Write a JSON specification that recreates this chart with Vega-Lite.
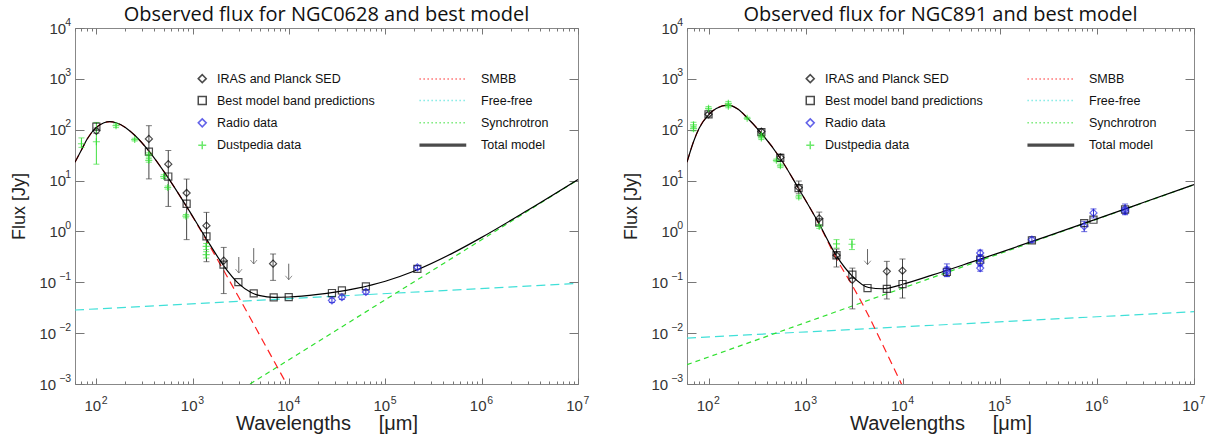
{
"$schema": "https://vega.github.io/schema/vega-lite/v6.json",
"background": "white",
"padding": {"left": 9, "top": 4, "right": 0, "bottom": 0},
"spacing": 31,
"config": {"view": {"stroke": "#888", "strokeWidth": 1}},
"datasets": {
"m628": [
{"series":"Free-free","wl":60,"flux":0.0285},{"series":"Free-free","wl":10000000,"flux":0.095},
{"series":"Synchrotron","wl":3940,"flux":0.001},{"series":"Synchrotron","wl":10000000,"flux":10.4},
{"series":"SMBB","wl":60,"flux":23},{"series":"SMBB","wl":70,"flux":40},{"series":"SMBB","wl":80,"flux":65},{"series":"SMBB","wl":100,"flux":111},{"series":"SMBB","wl":120,"flux":137},{"series":"SMBB","wl":138,"flux":144},{"series":"SMBB","wl":160,"flux":137},{"series":"SMBB","wl":200,"flux":111},{"series":"SMBB","wl":250,"flux":78},{"series":"SMBB","wl":350,"flux":38.4},{"series":"SMBB","wl":550,"flux":11.7},{"series":"SMBB","wl":850,"flux":3.22},{"series":"SMBB","wl":1380,"flux":0.684},{"series":"SMBB","wl":2100,"flux":0.17},{"series":"SMBB","wl":3000,"flux":0.0512},{"series":"SMBB","wl":4000,"flux":0.0192},{"series":"SMBB","wl":5000,"flux":0.0089},{"series":"SMBB","wl":7000,"flux":0.0028},{"series":"SMBB","wl":10000,"flux":0.00082},
{"series":"Total model","wl":60,"flux":23},{"series":"Total model","wl":70,"flux":40},{"series":"Total model","wl":80,"flux":65},{"series":"Total model","wl":100,"flux":111},{"series":"Total model","wl":120,"flux":137},{"series":"Total model","wl":138,"flux":144},{"series":"Total model","wl":160,"flux":137},{"series":"Total model","wl":200,"flux":111},{"series":"Total model","wl":250,"flux":78},{"series":"Total model","wl":350,"flux":38.4},{"series":"Total model","wl":550,"flux":11.7},{"series":"Total model","wl":850,"flux":3.25},{"series":"Total model","wl":1380,"flux":0.723},{"series":"Total model","wl":2100,"flux":0.211},{"series":"Total model","wl":3000,"flux":0.094},{"series":"Total model","wl":4000,"flux":0.0636},{"series":"Total model","wl":5000,"flux":0.0546},{"series":"Total model","wl":7000,"flux":0.0507},{"series":"Total model","wl":10000,"flux":0.0514},{"series":"Total model","wl":20000,"flux":0.0577},{"series":"Total model","wl":30000,"flux":0.064},{"series":"Total model","wl":50000,"flux":0.076},{"series":"Total model","wl":100000,"flux":0.105},{"series":"Total model","wl":200000,"flux":0.167},{"series":"Total model","wl":500000,"flux":0.375},{"series":"Total model","wl":1000000,"flux":0.764},{"series":"Total model","wl":3000000,"flux":2.6},{"series":"Total model","wl":10000000,"flux":10.5}
],
"p628": [
{"series":"Best model band predictions","wl":100,"flux":115},{"series":"Best model band predictions","wl":351,"flux":37},{"series":"Best model band predictions","wl":558,"flux":12},{"series":"Best model band predictions","wl":865,"flux":3.5},{"series":"Best model band predictions","wl":1390,"flux":0.8},{"series":"Best model band predictions","wl":2090,"flux":0.222},{"series":"Best model band predictions","wl":2980,"flux":0.101},{"series":"Best model band predictions","wl":4300,"flux":0.0605},{"series":"Best model band predictions","wl":6930,"flux":0.0505},{"series":"Best model band predictions","wl":9930,"flux":0.051},{"series":"Best model band predictions","wl":27900,"flux":0.0615},{"series":"Best model band predictions","wl":35400,"flux":0.069},{"series":"Best model band predictions","wl":62800,"flux":0.083},{"series":"Best model band predictions","wl":215000,"flux":0.183},
{"series":"IRAS and Planck SED","wl":100,"flux":95,"lo":85,"hi":108},{"series":"IRAS and Planck SED","wl":351,"flux":66,"lo":10.8,"hi":120},{"series":"IRAS and Planck SED","wl":558,"flux":21,"lo":3.1,"hi":39},{"series":"IRAS and Planck SED","wl":865,"flux":5.7,"lo":0.69,"hi":10.7},{"series":"IRAS and Planck SED","wl":1390,"flux":1.3,"lo":0.254,"hi":2.37},{"series":"IRAS and Planck SED","wl":2100,"flux":0.266,"lo":0.06,"hi":0.485},{"series":"IRAS and Planck SED","wl":6830,"flux":0.232,"lo":0.109,"hi":0.36},
{"series":"Dustpedia data","wl":70,"flux":53,"lo":45,"hi":69},{"series":"Dustpedia data","wl":100,"flux":58,"lo":21,"hi":139},{"series":"Dustpedia data","wl":160,"flux":120,"lo":110,"hi":130},{"series":"Dustpedia data","wl":250,"flux":64,"lo":60,"hi":68},{"series":"Dustpedia data","wl":350,"flux":32,"lo":29,"hi":35},{"series":"Dustpedia data","wl":350,"flux":25,"lo":23,"hi":27},{"series":"Dustpedia data","wl":500,"flux":12,"lo":11,"hi":13},{"series":"Dustpedia data","wl":550,"flux":7.3,"lo":6.8,"hi":7.8},{"series":"Dustpedia data","wl":850,"flux":2.0,"lo":1.85,"hi":2.15},{"series":"Dustpedia data","wl":1380,"flux":0.51,"lo":0.44,"hi":0.58},{"series":"Dustpedia data","wl":1380,"flux":0.35,"lo":0.3,"hi":0.4},
{"series":"Radio data","wl":27900,"flux":0.044,"lo":0.04,"hi":0.049},{"series":"Radio data","wl":35400,"flux":0.051,"lo":0.046,"hi":0.056},{"series":"Radio data","wl":62800,"flux":0.0645,"lo":0.058,"hi":0.071},{"series":"Radio data","wl":215000,"flux":0.196,"lo":0.18,"hi":0.21}
],
"u628": [{"wl":3010,"top":0.314,"tip":0.152},{"wl":4300,"top":0.47,"tip":0.229},{"wl":9930,"top":0.232,"tip":0.112}],
"m891": [
{"series":"Free-free","wl":60,"flux":0.008},{"series":"Free-free","wl":10000000,"flux":0.0264},
{"series":"Synchrotron","wl":60,"flux":0.0024},{"series":"Synchrotron","wl":10000000,"flux":8.3},
{"series":"SMBB","wl":60,"flux":23},{"series":"SMBB","wl":70,"flux":58},{"series":"SMBB","wl":80,"flux":107},{"series":"SMBB","wl":100,"flux":196},{"series":"SMBB","wl":120,"flux":262},{"series":"SMBB","wl":160,"flux":305},{"series":"SMBB","wl":200,"flux":255},{"series":"SMBB","wl":250,"flux":172},{"series":"SMBB","wl":345,"flux":88},{"series":"SMBB","wl":548,"flux":27.5},{"series":"SMBB","wl":846,"flux":7.0},{"series":"SMBB","wl":1380,"flux":1.37},{"series":"SMBB","wl":2080,"flux":0.29},{"series":"SMBB","wl":3040,"flux":0.085},{"series":"SMBB","wl":4450,"flux":0.022},{"series":"SMBB","wl":6190,"flux":0.006},{"series":"SMBB","wl":10000,"flux":0.00089},
{"series":"Total model","wl":60,"flux":23},{"series":"Total model","wl":70,"flux":58},{"series":"Total model","wl":80,"flux":107},{"series":"Total model","wl":100,"flux":196},{"series":"Total model","wl":120,"flux":262},{"series":"Total model","wl":160,"flux":305},{"series":"Total model","wl":200,"flux":255},{"series":"Total model","wl":250,"flux":172},{"series":"Total model","wl":345,"flux":88},{"series":"Total model","wl":548,"flux":27.5},{"series":"Total model","wl":846,"flux":7.0},{"series":"Total model","wl":1380,"flux":1.4},{"series":"Total model","wl":2080,"flux":0.33},{"series":"Total model","wl":3040,"flux":0.131},{"series":"Total model","wl":4450,"flux":0.079},{"series":"Total model","wl":6190,"flux":0.0746},{"series":"Total model","wl":10000,"flux":0.0916},{"series":"Total model","wl":20000,"flux":0.138},{"series":"Total model","wl":50000,"flux":0.246},{"series":"Total model","wl":100000,"flux":0.384},{"series":"Total model","wl":300000,"flux":0.792},{"series":"Total model","wl":1000000,"flux":1.767},{"series":"Total model","wl":3000000,"flux":3.7},{"series":"Total model","wl":10000000,"flux":8.33}
],
"p891": [
{"series":"Best model band predictions","wl":100,"flux":201},{"series":"Best model band predictions","wl":350,"flux":90},{"series":"Best model band predictions","wl":548,"flux":28},{"series":"Best model band predictions","wl":846,"flux":7.1},{"series":"Best model band predictions","wl":1380,"flux":1.5},{"series":"Best model band predictions","wl":2080,"flux":0.34},{"series":"Best model band predictions","wl":3030,"flux":0.141},{"series":"Best model band predictions","wl":4340,"flux":0.077},{"series":"Best model band predictions","wl":6860,"flux":0.074},{"series":"Best model band predictions","wl":9950,"flux":0.0924},{"series":"Best model band predictions","wl":28500,"flux":0.16},{"series":"Best model band predictions","wl":62800,"flux":0.278},{"series":"Best model band predictions","wl":214000,"flux":0.67},{"series":"Best model band predictions","wl":740000,"flux":1.46},{"series":"Best model band predictions","wl":922000,"flux":1.7},{"series":"Best model band predictions","wl":1950000,"flux":2.7},
{"series":"IRAS and Planck SED","wl":100,"flux":201,"lo":185,"hi":220},{"series":"IRAS and Planck SED","wl":350,"flux":92,"lo":82,"hi":102},{"series":"IRAS and Planck SED","wl":550,"flux":28.5,"lo":24,"hi":33},{"series":"IRAS and Planck SED","wl":850,"flux":7.3,"lo":5.5,"hi":9.8},{"series":"IRAS and Planck SED","wl":1380,"flux":1.8,"lo":1.35,"hi":2.4},{"series":"IRAS and Planck SED","wl":2080,"flux":0.34,"lo":0.2,"hi":0.45},{"series":"IRAS and Planck SED","wl":3030,"flux":0.112,"lo":0.03,"hi":0.19},{"series":"IRAS and Planck SED","wl":6860,"flux":0.164,"lo":0.047,"hi":0.258},{"series":"IRAS and Planck SED","wl":9950,"flux":0.169,"lo":0.049,"hi":0.287},
{"series":"Dustpedia data","wl":70,"flux":125,"lo":112,"hi":140},{"series":"Dustpedia data","wl":70,"flux":105,"lo":95,"hi":115},{"series":"Dustpedia data","wl":100,"flux":263,"lo":245,"hi":285},{"series":"Dustpedia data","wl":160,"flux":330,"lo":300,"hi":360},{"series":"Dustpedia data","wl":160,"flux":290,"lo":270,"hi":310},{"series":"Dustpedia data","wl":250,"flux":168,"lo":160,"hi":176},{"series":"Dustpedia data","wl":350,"flux":78,"lo":72,"hi":84},{"series":"Dustpedia data","wl":350,"flux":69,"lo":64,"hi":74},{"series":"Dustpedia data","wl":500,"flux":25,"lo":23.5,"hi":26.5},{"series":"Dustpedia data","wl":550,"flux":19.5,"lo":18,"hi":21},{"series":"Dustpedia data","wl":850,"flux":4.75,"lo":4.4,"hi":5.1},{"series":"Dustpedia data","wl":1380,"flux":1.25,"lo":1.15,"hi":1.35},{"series":"Dustpedia data","wl":2080,"flux":0.57,"lo":0.47,"hi":0.69},{"series":"Dustpedia data","wl":3000,"flux":0.56,"lo":0.44,"hi":0.7},
{"series":"Radio data","wl":28500,"flux":0.177,"lo":0.129,"hi":0.23},{"series":"Radio data","wl":28500,"flux":0.16,"lo":0.13,"hi":0.2},{"series":"Radio data","wl":62800,"flux":0.377,"lo":0.33,"hi":0.43},{"series":"Radio data","wl":62800,"flux":0.3,"lo":0.26,"hi":0.35},{"series":"Radio data","wl":62800,"flux":0.24,"lo":0.21,"hi":0.28},{"series":"Radio data","wl":62800,"flux":0.19,"lo":0.165,"hi":0.22},{"series":"Radio data","wl":214000,"flux":0.687,"lo":0.61,"hi":0.777},{"series":"Radio data","wl":740000,"flux":1.26,"lo":0.99,"hi":1.58},{"series":"Radio data","wl":922000,"flux":2.31,"lo":1.84,"hi":2.77},{"series":"Radio data","wl":1950000,"flux":2.76,"lo":2.13,"hi":3.46},{"series":"Radio data","wl":1950000,"flux":2.5,"lo":2.2,"hi":2.9}
],
"u891": [{"wl":4340,"top":0.45,"tip":0.222}]
},
"resolve": {"scale": {"x": "independent", "y": "independent", "shape": "independent", "stroke": "independent"}, "legend": {"shape": "independent", "stroke": "independent"}},
"hconcat": [
{
"width": 503, "height": 356,
"title": {"text": "Observed flux for NGC0628 and best model", "font": "Open Sans", "fontSize": 20, "fontWeight": "normal", "color": "#111", "offset": -8},
"resolve": {"axis": {"x": "independent", "y": "independent"}},
"layer": [
{"data": {"name": "m628"}, "transform": [{"filter": "datum.series == 'Free-free'"}],
 "mark": {"type": "line", "strokeDash": [9, 5], "strokeWidth": 1.2, "clip": true},
 "encoding": {
  "x": {"field": "wl", "type": "quantitative", "scale": {"type": "log", "domain": [60, 10000000], "nice": false},
   "axis": {"orient": "bottom", "values": [100, 1000, 10000, 100000, 1000000, 10000000], "labelExpr": "'10'", "ticks": false, "domain": false, "grid": false, "labelFont": "Liberation Sans", "labelFontSize": 15, "labelColor": "#333", "labelPadding": 14, "labelOffset": -4, "labelAlign": "center", "labelBaseline": "top", "labelFlush": false, "labelOverlap": false, "title": "Wavelengths\u00a0\u00a0\u00a0\u00a0\u00a0[\u03bcm]", "titleFont": "Liberation Sans", "titleFontSize": 20, "titleFontWeight": "normal", "titleColor": "#222", "titlePadding": 0}},
  "y": {"field": "flux", "type": "quantitative", "scale": {"type": "log", "domain": [0.001, 10000], "nice": false},
   "axis": {"orient": "left", "values": [0.001, 0.01, 0.1], "labelExpr": "'10'", "ticks": false, "domain": false, "grid": false, "labelFont": "Liberation Sans", "labelFontSize": 15, "labelColor": "#333", "labelPadding": 19.3, "labelAlign": "right", "labelBaseline": "middle", "labelFlush": false, "labelOverlap": false, "title": "Flux [Jy]", "titleFont": "Liberation Sans", "titleFontSize": 18, "titleFontWeight": "normal", "titleColor": "#222", "titlePadding": 11}},
  "stroke": {"field": "series", "type": "nominal",
   "scale": {"domain": ["IRAS and Planck SED", "Best model band predictions", "Radio data", "Dustpedia data", "SMBB", "Free-free", "Synchrotron", "Total model"], "range": ["#000000", "#000000", "#2020e0", "#30e030", "#ff2020", "#40e0d8", "#30e030", "#000000"]},
   "legend": {"title": null, "orient": "none", "legendX": 121, "legendY": 44, "columns": 2, "columnPadding": 41, "rowPadding": 7.3, "symbolSize": 64, "symbolStrokeWidth": 1.5, "labelFont": "Liberation Sans", "labelFontSize": 12.5, "labelColor": "#111", "labelOffset": 8.5}}
 }},
{"data": {"name": "m628"}, "transform": [{"filter": "datum.series == 'Synchrotron'"}],
 "mark": {"type": "line", "strokeDash": [5, 4], "strokeWidth": 1.2, "clip": true},
 "encoding": {
  "x": {"field": "wl", "type": "quantitative", "scale": {"type": "log", "domain": [60, 10000000], "nice": false},
   "axis": {"orient": "bottom", "values": [100, 1000, 10000, 100000, 1000000, 10000000], "labelExpr": "format(round(log(datum.value)/LN10),'d')", "ticks": false, "domain": false, "grid": false, "labelFont": "Liberation Sans", "labelFontSize": 10.5, "labelColor": "#333", "labelPadding": 11, "labelOffset": 5, "labelAlign": "left", "labelBaseline": "top", "labelFlush": false, "labelOverlap": false, "title": null}},
  "y": {"field": "flux", "type": "quantitative", "scale": {"type": "log", "domain": [0.001, 10000], "nice": false},
   "axis": {"orient": "left", "values": [0.001, 0.01, 0.1, 1, 10, 100, 1000, 10000], "labelExpr": "datum.value < 0.5 ? '\u2212' + format(-round(log(datum.value)/LN10),'d') : format(round(log(datum.value)/LN10),'d')", "ticks": false, "domain": false, "grid": false, "labelFont": "Liberation Sans", "labelFontSize": 10.5, "labelColor": "#333", "labelPadding": 4.3, "labelOffset": -6, "labelAlign": "right", "labelBaseline": "middle", "labelFlush": false, "labelOverlap": false, "title": null}},
  "stroke": {"field": "series", "type": "nominal"}
 }},
{"data": {"name": "m628"}, "transform": [{"filter": "datum.series == 'SMBB'"}],
 "mark": {"type": "line", "strokeDash": [8, 5], "strokeWidth": 1.2, "clip": true, "interpolate": "monotone"},
 "encoding": {
  "x": {"field": "wl", "type": "quantitative", "scale": {"type": "log", "domain": [60, 10000000], "nice": false},
   "axis": {"orient": "top", "values": [100, 1000, 10000, 100000, 1000000, 10000000], "labels": false, "ticks": true, "tickSize": -6, "tickColor": "#777", "domain": false, "grid": false, "title": null}},
  "y": {"field": "flux", "type": "quantitative", "scale": {"type": "log", "domain": [0.001, 10000], "nice": false},
   "axis": {"orient": "right", "values": [0.001, 0.01, 0.1, 1, 10, 100, 1000, 10000], "labels": false, "ticks": true, "tickSize": -9, "tickColor": "#777", "domain": false, "grid": false, "title": null}},
  "stroke": {"field": "series", "type": "nominal"}
 }},
{"data": {"name": "m628"}, "transform": [{"filter": "datum.series == 'Total model'"}],
 "mark": {"type": "line", "strokeWidth": 1.2, "clip": true, "interpolate": "monotone"},
 "encoding": {
  "x": {"field": "wl", "type": "quantitative", "scale": {"type": "log", "domain": [60, 10000000], "nice": false},
   "axis": {"orient": "bottom", "values": [100, 1000, 10000, 100000, 1000000, 10000000], "labels": false, "ticks": true, "tickSize": -6, "tickColor": "#777", "domain": false, "grid": false, "title": null}},
  "y": {"field": "flux", "type": "quantitative", "scale": {"type": "log", "domain": [0.001, 10000], "nice": false},
   "axis": {"orient": "left", "values": [0.001, 0.01, 0.1, 1, 10, 100, 1000, 10000], "labels": false, "ticks": true, "tickSize": -9, "tickColor": "#777", "domain": false, "grid": false, "title": null}},
  "stroke": {"field": "series", "type": "nominal"}
 }},
{"data": {"name": "p628"}, "transform": [{"filter": "datum.lo != null"}],
 "mark": {"type": "rule", "strokeWidth": 1},
 "encoding": {
  "x": {"field": "wl", "type": "quantitative", "scale": {"type": "log", "domain": [60, 10000000], "nice": false},
   "axis": {"orient": "bottom", "values": [60,70,80,90,200,300,400,500,600,700,800,900,2000,3000,4000,5000,6000,7000,8000,9000,20000,30000,40000,50000,60000,70000,80000,90000,200000,300000,400000,500000,600000,700000,800000,900000,2000000,3000000,4000000,5000000,6000000,7000000,8000000,9000000], "labels": false, "ticks": true, "tickSize": -3, "tickColor": "#777", "domain": false, "grid": false, "title": null}},
  "y": {"field": "lo", "type": "quantitative", "scale": {"type": "log", "domain": [0.001, 10000], "nice": false},
   "axis": {"orient": "left", "values": [1, 10, 100, 1000, 10000], "labelExpr": "'10'", "ticks": false, "domain": false, "grid": false, "labelFont": "Liberation Sans", "labelFontSize": 15, "labelColor": "#333", "labelPadding": 9.3, "labelAlign": "right", "labelBaseline": "middle", "labelFlush": false, "labelOverlap": false, "title": null}},
  "y2": {"field": "hi"},
  "stroke": {"condition": [{"test": "datum.series == 'Radio data'", "value": "#2a2ad0"}, {"test": "datum.series == 'Dustpedia data'", "value": "#40e040"}], "value": "#444444"}
 }},
{"data": {"name": "p628"}, "transform": [{"filter": "datum.lo != null"}],
 "mark": {"type": "tick", "orient": "horizontal", "size": 6, "thickness": 1},
 "encoding": {
  "x": {"field": "wl", "type": "quantitative", "scale": {"type": "log", "domain": [60, 10000000], "nice": false},
   "axis": {"orient": "top", "values": [60,70,80,90,200,300,400,500,600,700,800,900,2000,3000,4000,5000,6000,7000,8000,9000,20000,30000,40000,50000,60000,70000,80000,90000,200000,300000,400000,500000,600000,700000,800000,900000,2000000,3000000,4000000,5000000,6000000,7000000,8000000,9000000], "labels": false, "ticks": true, "tickSize": -3, "tickColor": "#777", "domain": false, "grid": false, "title": null}},
  "y": {"field": "lo", "type": "quantitative", "scale": {"type": "log", "domain": [0.001, 10000], "nice": false}, "axis": null},
  "color": {"condition": [{"test": "datum.series == 'Radio data'", "value": "#2a2ad0"}, {"test": "datum.series == 'Dustpedia data'", "value": "#40e040"}], "value": "#444444"}
 }},
{"data": {"name": "p628"}, "transform": [{"filter": "datum.hi != null"}],
 "mark": {"type": "tick", "orient": "horizontal", "size": 6, "thickness": 1},
 "encoding": {
  "x": {"field": "wl", "type": "quantitative", "scale": {"type": "log", "domain": [60, 10000000], "nice": false}, "axis": null},
  "y": {"field": "hi", "type": "quantitative", "scale": {"type": "log", "domain": [0.001, 10000], "nice": false}, "axis": null},
  "color": {"condition": [{"test": "datum.series == 'Radio data'", "value": "#2a2ad0"}, {"test": "datum.series == 'Dustpedia data'", "value": "#40e040"}], "value": "#444444"}
 }},
{"data": {"name": "p628"},
 "mark": {"type": "point", "filled": false, "size": 50, "strokeWidth": 1.2},
 "encoding": {
  "x": {"field": "wl", "type": "quantitative", "scale": {"type": "log", "domain": [60, 10000000], "nice": false}, "axis": null},
  "y": {"field": "flux", "type": "quantitative", "scale": {"type": "log", "domain": [0.001, 10000], "nice": false}, "axis": null},
  "stroke": {"field": "series", "type": "nominal"},
  "shape": {"field": "series", "type": "nominal",
   "scale": {"domain": ["IRAS and Planck SED", "Best model band predictions", "Radio data", "Dustpedia data", "SMBB", "Free-free", "Synchrotron", "Total model"], "range": ["diamond", "square", "diamond", "M-1,0H1M0,-1V1", "M-11.7,0h0.35M-10.7,0h0.35M-9.7,0h0.35M-8.7,0h0.35M-7.7,0h0.35M-6.7,0h0.35M-5.7,0h0.35M-4.7,0h0.35M-3.7,0h0.35M-2.7,0h0.35M-1.7,0h0.35M-0.7,0h0.35", "M-11.7,0h0.35M-10.7,0h0.35M-9.7,0h0.35M-8.7,0h0.35M-7.7,0h0.35M-6.7,0h0.35M-5.7,0h0.35M-4.7,0h0.35M-3.7,0h0.35M-2.7,0h0.35M-1.7,0h0.35M-0.7,0h0.35", "M-11.7,0h0.35M-10.7,0h0.35M-9.7,0h0.35M-8.7,0h0.35M-7.7,0h0.35M-6.7,0h0.35M-5.7,0h0.35M-4.7,0h0.35M-3.7,0h0.35M-2.7,0h0.35M-1.7,0h0.35M-0.7,0h0.35", "M-11.7,-0.2H0M-11.7,0H0M-11.7,0.2H0"]},
   "legend": {"title": null, "orient": "none", "legendX": 121, "legendY": 44, "columns": 2, "columnPadding": 41, "rowPadding": 7.3, "symbolSize": 64, "symbolStrokeWidth": 1.5, "labelFont": "Liberation Sans", "labelFontSize": 12.5, "labelColor": "#111", "labelOffset": 8.5}}
 }},
{"data": {"name": "u628"},
 "mark": {"type": "rule", "strokeWidth": 1, "color": "#666"},
 "encoding": {
  "x": {"field": "wl", "type": "quantitative", "scale": {"type": "log", "domain": [60, 10000000], "nice": false}, "axis": null},
  "y": {"field": "top", "type": "quantitative", "scale": {"type": "log", "domain": [0.001, 10000], "nice": false}, "axis": null},
  "y2": {"field": "tip"}
 }},
{"data": {"name": "u628"},
 "mark": {"type": "point", "shape": "M-1,-1.2L0,0L1,-1.2", "size": 44, "filled": false, "strokeWidth": 1, "color": "#666"},
 "encoding": {
  "x": {"field": "wl", "type": "quantitative", "scale": {"type": "log", "domain": [60, 10000000], "nice": false}, "axis": null},
  "y": {"field": "tip", "type": "quantitative", "scale": {"type": "log", "domain": [0.001, 10000], "nice": false}, "axis": null}
 }}
]
},
{
"width": 507, "height": 356,
"title": {"text": "Observed flux for NGC891 and best model", "font": "Open Sans", "fontSize": 20, "fontWeight": "normal", "color": "#111", "offset": -8},
"resolve": {"axis": {"x": "independent", "y": "independent"}},
"layer": [
{"data": {"name": "m891"}, "transform": [{"filter": "datum.series == 'Free-free'"}],
 "mark": {"type": "line", "strokeDash": [9, 5], "strokeWidth": 1.2, "clip": true},
 "encoding": {
  "x": {"field": "wl", "type": "quantitative", "scale": {"type": "log", "domain": [60, 10000000], "nice": false},
   "axis": {"orient": "bottom", "values": [100, 1000, 10000, 100000, 1000000, 10000000], "labelExpr": "'10'", "ticks": false, "domain": false, "grid": false, "labelFont": "Liberation Sans", "labelFontSize": 15, "labelColor": "#333", "labelPadding": 14, "labelOffset": -4, "labelAlign": "center", "labelBaseline": "top", "labelFlush": false, "labelOverlap": false, "title": "Wavelengths\u00a0\u00a0\u00a0\u00a0\u00a0[\u03bcm]", "titleFont": "Liberation Sans", "titleFontSize": 20, "titleFontWeight": "normal", "titleColor": "#222", "titlePadding": 0}},
  "y": {"field": "flux", "type": "quantitative", "scale": {"type": "log", "domain": [0.001, 10000], "nice": false},
   "axis": {"orient": "left", "values": [0.001, 0.01, 0.1], "labelExpr": "'10'", "ticks": false, "domain": false, "grid": false, "labelFont": "Liberation Sans", "labelFontSize": 15, "labelColor": "#333", "labelPadding": 19.3, "labelAlign": "right", "labelBaseline": "middle", "labelFlush": false, "labelOverlap": false, "title": "Flux [Jy]", "titleFont": "Liberation Sans", "titleFontSize": 18, "titleFontWeight": "normal", "titleColor": "#222", "titlePadding": 11}},
  "stroke": {"field": "series", "type": "nominal",
   "scale": {"domain": ["IRAS and Planck SED", "Best model band predictions", "Radio data", "Dustpedia data", "SMBB", "Free-free", "Synchrotron", "Total model"], "range": ["#000000", "#000000", "#2020e0", "#30e030", "#ff2020", "#40e0d8", "#30e030", "#000000"]},
   "legend": {"title": null, "orient": "none", "legendX": 117, "legendY": 44, "columns": 2, "columnPadding": 41, "rowPadding": 7.3, "symbolSize": 64, "symbolStrokeWidth": 1.5, "labelFont": "Liberation Sans", "labelFontSize": 12.5, "labelColor": "#111", "labelOffset": 8.5}}
 }},
{"data": {"name": "m891"}, "transform": [{"filter": "datum.series == 'Synchrotron'"}],
 "mark": {"type": "line", "strokeDash": [5, 4], "strokeWidth": 1.2, "clip": true},
 "encoding": {
  "x": {"field": "wl", "type": "quantitative", "scale": {"type": "log", "domain": [60, 10000000], "nice": false},
   "axis": {"orient": "bottom", "values": [100, 1000, 10000, 100000, 1000000, 10000000], "labelExpr": "format(round(log(datum.value)/LN10),'d')", "ticks": false, "domain": false, "grid": false, "labelFont": "Liberation Sans", "labelFontSize": 10.5, "labelColor": "#333", "labelPadding": 11, "labelOffset": 5, "labelAlign": "left", "labelBaseline": "top", "labelFlush": false, "labelOverlap": false, "title": null}},
  "y": {"field": "flux", "type": "quantitative", "scale": {"type": "log", "domain": [0.001, 10000], "nice": false},
   "axis": {"orient": "left", "values": [0.001, 0.01, 0.1, 1, 10, 100, 1000, 10000], "labelExpr": "datum.value < 0.5 ? '\u2212' + format(-round(log(datum.value)/LN10),'d') : format(round(log(datum.value)/LN10),'d')", "ticks": false, "domain": false, "grid": false, "labelFont": "Liberation Sans", "labelFontSize": 10.5, "labelColor": "#333", "labelPadding": 4.3, "labelOffset": -6, "labelAlign": "right", "labelBaseline": "middle", "labelFlush": false, "labelOverlap": false, "title": null}},
  "stroke": {"field": "series", "type": "nominal"}
 }},
{"data": {"name": "m891"}, "transform": [{"filter": "datum.series == 'SMBB'"}],
 "mark": {"type": "line", "strokeDash": [8, 5], "strokeWidth": 1.2, "clip": true, "interpolate": "monotone"},
 "encoding": {
  "x": {"field": "wl", "type": "quantitative", "scale": {"type": "log", "domain": [60, 10000000], "nice": false},
   "axis": {"orient": "top", "values": [100, 1000, 10000, 100000, 1000000, 10000000], "labels": false, "ticks": true, "tickSize": -6, "tickColor": "#777", "domain": false, "grid": false, "title": null}},
  "y": {"field": "flux", "type": "quantitative", "scale": {"type": "log", "domain": [0.001, 10000], "nice": false},
   "axis": {"orient": "right", "values": [0.001, 0.01, 0.1, 1, 10, 100, 1000, 10000], "labels": false, "ticks": true, "tickSize": -9, "tickColor": "#777", "domain": false, "grid": false, "title": null}},
  "stroke": {"field": "series", "type": "nominal"}
 }},
{"data": {"name": "m891"}, "transform": [{"filter": "datum.series == 'Total model'"}],
 "mark": {"type": "line", "strokeWidth": 1.2, "clip": true, "interpolate": "monotone"},
 "encoding": {
  "x": {"field": "wl", "type": "quantitative", "scale": {"type": "log", "domain": [60, 10000000], "nice": false},
   "axis": {"orient": "bottom", "values": [100, 1000, 10000, 100000, 1000000, 10000000], "labels": false, "ticks": true, "tickSize": -6, "tickColor": "#777", "domain": false, "grid": false, "title": null}},
  "y": {"field": "flux", "type": "quantitative", "scale": {"type": "log", "domain": [0.001, 10000], "nice": false},
   "axis": {"orient": "left", "values": [0.001, 0.01, 0.1, 1, 10, 100, 1000, 10000], "labels": false, "ticks": true, "tickSize": -9, "tickColor": "#777", "domain": false, "grid": false, "title": null}},
  "stroke": {"field": "series", "type": "nominal"}
 }},
{"data": {"name": "p891"}, "transform": [{"filter": "datum.lo != null"}],
 "mark": {"type": "rule", "strokeWidth": 1},
 "encoding": {
  "x": {"field": "wl", "type": "quantitative", "scale": {"type": "log", "domain": [60, 10000000], "nice": false},
   "axis": {"orient": "bottom", "values": [60,70,80,90,200,300,400,500,600,700,800,900,2000,3000,4000,5000,6000,7000,8000,9000,20000,30000,40000,50000,60000,70000,80000,90000,200000,300000,400000,500000,600000,700000,800000,900000,2000000,3000000,4000000,5000000,6000000,7000000,8000000,9000000], "labels": false, "ticks": true, "tickSize": -3, "tickColor": "#777", "domain": false, "grid": false, "title": null}},
  "y": {"field": "lo", "type": "quantitative", "scale": {"type": "log", "domain": [0.001, 10000], "nice": false},
   "axis": {"orient": "left", "values": [1, 10, 100, 1000, 10000], "labelExpr": "'10'", "ticks": false, "domain": false, "grid": false, "labelFont": "Liberation Sans", "labelFontSize": 15, "labelColor": "#333", "labelPadding": 9.3, "labelAlign": "right", "labelBaseline": "middle", "labelFlush": false, "labelOverlap": false, "title": null}},
  "y2": {"field": "hi"},
  "stroke": {"condition": [{"test": "datum.series == 'Radio data'", "value": "#2a2ad0"}, {"test": "datum.series == 'Dustpedia data'", "value": "#40e040"}], "value": "#444444"}
 }},
{"data": {"name": "p891"}, "transform": [{"filter": "datum.lo != null"}],
 "mark": {"type": "tick", "orient": "horizontal", "size": 6, "thickness": 1},
 "encoding": {
  "x": {"field": "wl", "type": "quantitative", "scale": {"type": "log", "domain": [60, 10000000], "nice": false},
   "axis": {"orient": "top", "values": [60,70,80,90,200,300,400,500,600,700,800,900,2000,3000,4000,5000,6000,7000,8000,9000,20000,30000,40000,50000,60000,70000,80000,90000,200000,300000,400000,500000,600000,700000,800000,900000,2000000,3000000,4000000,5000000,6000000,7000000,8000000,9000000], "labels": false, "ticks": true, "tickSize": -3, "tickColor": "#777", "domain": false, "grid": false, "title": null}},
  "y": {"field": "lo", "type": "quantitative", "scale": {"type": "log", "domain": [0.001, 10000], "nice": false}, "axis": null},
  "color": {"condition": [{"test": "datum.series == 'Radio data'", "value": "#2a2ad0"}, {"test": "datum.series == 'Dustpedia data'", "value": "#40e040"}], "value": "#444444"}
 }},
{"data": {"name": "p891"}, "transform": [{"filter": "datum.hi != null"}],
 "mark": {"type": "tick", "orient": "horizontal", "size": 6, "thickness": 1},
 "encoding": {
  "x": {"field": "wl", "type": "quantitative", "scale": {"type": "log", "domain": [60, 10000000], "nice": false}, "axis": null},
  "y": {"field": "hi", "type": "quantitative", "scale": {"type": "log", "domain": [0.001, 10000], "nice": false}, "axis": null},
  "color": {"condition": [{"test": "datum.series == 'Radio data'", "value": "#2a2ad0"}, {"test": "datum.series == 'Dustpedia data'", "value": "#40e040"}], "value": "#444444"}
 }},
{"data": {"name": "p891"},
 "mark": {"type": "point", "filled": false, "size": 50, "strokeWidth": 1.2},
 "encoding": {
  "x": {"field": "wl", "type": "quantitative", "scale": {"type": "log", "domain": [60, 10000000], "nice": false}, "axis": null},
  "y": {"field": "flux", "type": "quantitative", "scale": {"type": "log", "domain": [0.001, 10000], "nice": false}, "axis": null},
  "stroke": {"field": "series", "type": "nominal"},
  "shape": {"field": "series", "type": "nominal",
   "scale": {"domain": ["IRAS and Planck SED", "Best model band predictions", "Radio data", "Dustpedia data", "SMBB", "Free-free", "Synchrotron", "Total model"], "range": ["diamond", "square", "diamond", "M-1,0H1M0,-1V1", "M-11.7,0h0.35M-10.7,0h0.35M-9.7,0h0.35M-8.7,0h0.35M-7.7,0h0.35M-6.7,0h0.35M-5.7,0h0.35M-4.7,0h0.35M-3.7,0h0.35M-2.7,0h0.35M-1.7,0h0.35M-0.7,0h0.35", "M-11.7,0h0.35M-10.7,0h0.35M-9.7,0h0.35M-8.7,0h0.35M-7.7,0h0.35M-6.7,0h0.35M-5.7,0h0.35M-4.7,0h0.35M-3.7,0h0.35M-2.7,0h0.35M-1.7,0h0.35M-0.7,0h0.35", "M-11.7,0h0.35M-10.7,0h0.35M-9.7,0h0.35M-8.7,0h0.35M-7.7,0h0.35M-6.7,0h0.35M-5.7,0h0.35M-4.7,0h0.35M-3.7,0h0.35M-2.7,0h0.35M-1.7,0h0.35M-0.7,0h0.35", "M-11.7,-0.2H0M-11.7,0H0M-11.7,0.2H0"]},
   "legend": {"title": null, "orient": "none", "legendX": 117, "legendY": 44, "columns": 2, "columnPadding": 41, "rowPadding": 7.3, "symbolSize": 64, "symbolStrokeWidth": 1.5, "labelFont": "Liberation Sans", "labelFontSize": 12.5, "labelColor": "#111", "labelOffset": 8.5}}
 }},
{"data": {"name": "u891"},
 "mark": {"type": "rule", "strokeWidth": 1, "color": "#666"},
 "encoding": {
  "x": {"field": "wl", "type": "quantitative", "scale": {"type": "log", "domain": [60, 10000000], "nice": false}, "axis": null},
  "y": {"field": "top", "type": "quantitative", "scale": {"type": "log", "domain": [0.001, 10000], "nice": false}, "axis": null},
  "y2": {"field": "tip"}
 }},
{"data": {"name": "u891"},
 "mark": {"type": "point", "shape": "M-1,-1.2L0,0L1,-1.2", "size": 44, "filled": false, "strokeWidth": 1, "color": "#666"},
 "encoding": {
  "x": {"field": "wl", "type": "quantitative", "scale": {"type": "log", "domain": [60, 10000000], "nice": false}, "axis": null},
  "y": {"field": "tip", "type": "quantitative", "scale": {"type": "log", "domain": [0.001, 10000], "nice": false}, "axis": null}
 }}
]
}
]
}
